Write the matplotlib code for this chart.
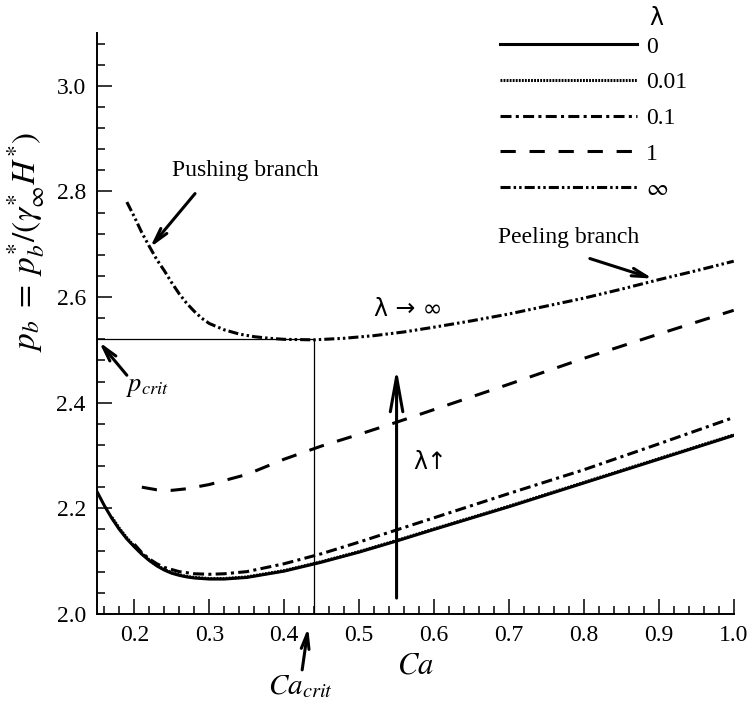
import matplotlib
matplotlib.use("Agg")
import matplotlib.pyplot as plt
from matplotlib.ticker import MultipleLocator, FormatStrFormatter

plt.rcParams['font.family'] = ['Liberation Serif', 'DejaVu Serif']
plt.rcParams['mathtext.fontset'] = 'stix'

# lambda = 0
ca_0 = [0.15, 0.16, 0.17, 0.18, 0.19, 0.20, 0.21, 0.22, 0.23, 0.24, 0.25, 0.26, 0.27, 0.28,
        0.30, 0.32, 0.35, 0.40, 0.45, 0.50, 0.55, 0.60, 0.70, 0.80, 0.90, 1.00]
p_0 = [2.232, 2.205, 2.181, 2.160, 2.142, 2.127, 2.113, 2.101, 2.091, 2.083, 2.077, 2.073, 2.070,
       2.068, 2.066, 2.066, 2.069, 2.081, 2.098, 2.117, 2.138, 2.160, 2.203, 2.248, 2.293, 2.338]

# lambda = 0.01
ca_001 = [0.17, 0.18, 0.19, 0.20, 0.21, 0.22, 0.23, 0.24, 0.25, 0.26, 0.27, 0.28, 0.30, 0.32,
          0.35, 0.40, 0.45, 0.50, 0.55, 0.60, 0.70, 0.80, 0.90, 1.00]
p_001 = [2.183, 2.162, 2.144, 2.128, 2.114, 2.102, 2.092, 2.084, 2.078, 2.074, 2.071, 2.069,
         2.067, 2.067, 2.070, 2.082, 2.099, 2.118, 2.139, 2.161, 2.204, 2.249, 2.294, 2.339]

# lambda = 0.1
ca_01 = [0.20, 0.21, 0.22, 0.23, 0.24, 0.25, 0.26, 0.28, 0.30, 0.32, 0.35, 0.40, 0.45, 0.50,
         0.55, 0.60, 0.70, 0.80, 0.90, 1.00]
p_01 = [2.132, 2.116, 2.104, 2.095, 2.088, 2.084, 2.080, 2.076, 2.075, 2.076, 2.080, 2.095,
        2.114, 2.136, 2.159, 2.182, 2.228, 2.273, 2.322, 2.372]

# lambda = 1
ca_1 = [0.21, 0.23, 0.25, 0.27, 0.30, 0.35, 0.40, 0.45, 0.50, 0.55, 0.60, 0.70,
        0.80, 0.90, 1.00]
p_1 = [2.240, 2.235, 2.234, 2.237, 2.245, 2.264, 2.293, 2.318, 2.340, 2.363, 2.387, 2.435,
       2.484, 2.530, 2.575]

# lambda -> infinity
ca_inf = [0.19, 0.20, 0.21, 0.22, 0.23, 0.24, 0.25, 0.26, 0.27, 0.28, 0.29, 0.30, 0.32, 0.34,
          0.36, 0.38, 0.40, 0.44, 0.48, 0.52, 0.56, 0.60, 0.65, 0.70, 0.75, 0.80, 0.85, 0.90,
          0.95, 1.00]
p_inf = [2.780, 2.752, 2.722, 2.696, 2.671, 2.650, 2.627, 2.606, 2.588, 2.573, 2.560, 2.550,
         2.538, 2.530, 2.525, 2.522, 2.520, 2.519, 2.522, 2.527, 2.534, 2.543, 2.555, 2.568,
         2.583, 2.598, 2.615, 2.633, 2.650, 2.668]

ca_crit = 0.44
p_crit = 2.52

labels = ['0', '0.01', '0.1', '1', r'$\infty$']

fig = plt.figure(figsize=(7.51, 7.04), dpi=100)
ax = fig.add_axes([0.129, 0.128, 0.848, 0.825])

lw = 2.2
ax.plot(ca_0, p_0, color='black', lw=lw, ls='-', label=labels[0])
ax.plot(ca_001, p_001, color='black', lw=lw, ls=(0, (0.6, 0.4)), label=labels[1])
ax.plot(ca_01, p_01, color='black', lw=lw, ls=(0, (3.6, 1.4, 1.0, 1.4)), label=labels[2])
ax.plot(ca_1, p_1, color='black', lw=lw, ls=(0, (5, 4.5)), label=labels[3])
ax.plot(ca_inf, p_inf, color='black', lw=lw, ls=(0, (3.3, 1.0, 0.8, 1.0, 0.8, 1.0)), label=labels[4])

# critical point guides
ax.plot([0.15, ca_crit], [p_crit, p_crit], color='black', lw=0.9)
ax.plot([ca_crit, ca_crit], [2.0, p_crit], color='black', lw=0.9)

ax.set_xlim(0.15, 1.0)
ax.set_ylim(2.0, 3.1)
ax.xaxis.set_major_locator(MultipleLocator(0.1))
ax.xaxis.set_minor_locator(MultipleLocator(0.02))
ax.yaxis.set_major_locator(MultipleLocator(0.2))
ax.yaxis.set_minor_locator(MultipleLocator(0.04))
ax.xaxis.set_major_formatter(FormatStrFormatter('%.1f'))
ax.yaxis.set_major_formatter(FormatStrFormatter('%.1f'))
ax.tick_params(which='both', direction='in', labelsize=17, width=1.1)
ax.tick_params(which='major', length=11, pad=8)
ax.tick_params(which='minor', length=6)
ax.spines['top'].set_visible(False)
ax.spines['right'].set_visible(False)
for s in ['left', 'bottom']:
    ax.spines[s].set_linewidth(1.4)

ax.set_xlabel(r'$Ca$', fontsize=22, labelpad=4)
ax.set_ylabel(r'$p_b\;=\;p_b^{*}/(\gamma_{\infty}^{*}H^{*})$', fontsize=24)
ax.yaxis.set_label_coords(-0.078, 0.64)

leg = ax.legend(loc='upper left', bbox_to_anchor=(0.633, 0.995), frameon=False,
                fontsize=17, handlelength=5.8, handletextpad=0.4, labelspacing=0.6,
                borderpad=0, borderaxespad=0)
ax.text(0.868, 1.026, 'λ', transform=ax.transAxes, fontsize=17, ha='left', va='center',
        family=['DejaVu Sans'])

arrow = dict(arrowstyle='->, head_length=1.1, head_width=0.28', color='black', lw=2.2,
             shrinkA=0, shrinkB=0)
ax.text(0.348, 2.839, 'Pushing branch', fontsize=17, ha='center', va='center')
ax.annotate('', xy=(0.221, 2.694), xytext=(0.281, 2.796), arrowprops=arrow)
ax.text(0.779, 2.712, 'Peeling branch', fontsize=17, ha='center', va='center')
ax.annotate('', xy=(0.892, 2.635), xytext=(0.808, 2.673), arrowprops=arrow)
ax.text(0.218, 2.427, r'$p_{crit}$', fontsize=19, ha='center', va='center')
ax.annotate('', xy=(0.153, 2.515), xytext=(0.19, 2.452), arrowprops=arrow)
ax.text(0.421, 1.862, r'$Ca_{crit}$', fontsize=21, ha='center', va='center', clip_on=False)
ax.annotate('', xy=(0.432, 1.974), xytext=(0.424, 1.894), annotation_clip=False,
            arrowprops=arrow)
ax.annotate('', xy=(0.55, 2.465), xytext=(0.55, 2.03),
            arrowprops=dict(arrowstyle='->, head_length=2.5, head_width=0.45', color='black',
                            lw=2.2, shrinkA=0, shrinkB=0))
ax.text(0.565, 2.577, 'λ → ∞', fontsize=17, ha='center', va='center', family=['DejaVu Sans'])
ax.text(0.595, 2.287, 'λ↑', fontsize=17, ha='center', va='center', family=['DejaVu Sans'])

fig.savefig('out.png', dpi=100)
